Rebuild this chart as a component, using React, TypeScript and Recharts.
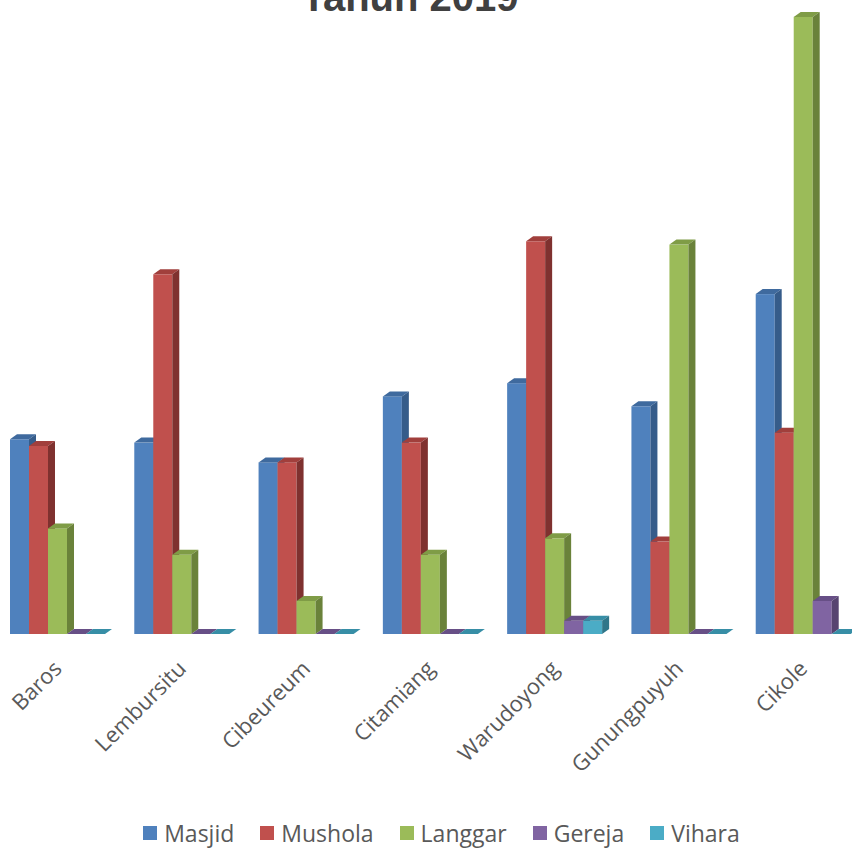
import React from "react";
import { BarChart, Bar, XAxis, YAxis, Legend } from "recharts";

const kecamatan = ["Baros", "Lembursitu", "Cibeureum", "Citamiang", "Warudoyong", "Gunungpuyuh", "Cikole"];
const masjid = [59, 58, 52, 72, 76, 69, 103];
const mushola = [57, 109, 52, 58, 119, 28, 61];
const langgar = [32, 24, 10, 24, 29, 118, 187];
const gereja = [0, 0, 0, 0, 4, 0, 10];
const vihara = [0, 0, 0, 0, 4, 0, 0];

const series = [
  { key: "Masjid", front: "#4F81BD", top: "#3F6A9E", side: "#365C8A" },
  { key: "Mushola", front: "#C0504D", top: "#A13F3C", side: "#7F312F" },
  { key: "Langgar", front: "#9BBB59", top: "#7F9C46", side: "#6A823A" },
  { key: "Gereja", front: "#8064A2", top: "#674F86", side: "#574470" },
  { key: "Vihara", front: "#4BACC6", top: "#378EA6", side: "#2F7689" },
];

const data = kecamatan.map((name, i) => ({
  name,
  Masjid: masjid[i],
  Mushola: mushola[i],
  Langgar: langgar[i],
  Gereja: gereja[i],
  Vihara: vihara[i],
}));

const DX = 7;
const DY = 5;

function bar3d(s: { front: string; top: string; side: string }) {
  return (props: any) => {
    const { x, y, width, height } = props;
    if (x == null || y == null) return <g />;
    const h = Math.max(0, height || 0);
    const w = width;
    return (
      <g>
        <rect x={x} y={y} width={w} height={h} fill={s.front} />
        <polygon
          points={`${x},${y} ${x + DX},${y - DY} ${x + w + DX},${y - DY} ${x + w},${y}`}
          fill={s.top}
        />
        <polygon
          points={`${x + w},${y} ${x + w + DX},${y - DY} ${x + w + DX},${y + h - DY} ${x + w},${y + h}`}
          fill={s.side}
        />
      </g>
    );
  };
}

const Tick = (props: any) => {
  const { x, y, payload } = props;
  const ax = x + 6;
  const ay = y + 28;
  return (
    <text
      x={ax}
      y={ay}
      transform={`rotate(-45, ${ax}, ${ay})`}
      textAnchor="end"
      fill="#595959"
      fontSize={22}
      fontFamily="'Open Sans', sans-serif"
    >
      {payload.value}
    </text>
  );
};

const LegendBox = () => (
  <div
    style={{
      height: 40,
      display: "flex",
      justifyContent: "center",
      alignItems: "center",
      gap: 26,
      paddingTop: 10,
      paddingLeft: 23,
      boxSizing: "border-box",
      fontFamily: "'Open Sans', sans-serif",
      fontSize: 23,
      color: "#595959",
    }}
  >
    {series.map((s) => (
      <div key={s.key} style={{ display: "flex", alignItems: "center", gap: 7 }}>
        <div style={{ width: 14, height: 14, background: s.front }} />
        <span>{s.key}</span>
      </div>
    ))}
  </div>
);

export default function App() {
  return (
    <div
      style={{
        position: "absolute",
        left: 0,
        top: 0,
        width: 852,
        height: 848,
        overflow: "hidden",
        background: "#fff",
      }}
    >
      <div style={{ position: "absolute", left: -5, top: 0 }}>
        <BarChart
          width={870}
          height={848}
          data={data}
          margin={{ top: 7, right: 0, bottom: 0, left: 0 }}
          barGap={0}
          barSize={19}
        >
          <XAxis
            dataKey="name"
            axisLine={false}
            tickLine={false}
            interval={0}
            height={174}
            tick={<Tick />}
          />
          <YAxis hide domain={[0, 190]} allowDataOverflow />
          <Legend verticalAlign="bottom" height={40} content={() => <LegendBox />} />
          {series.map((s) => (
            <Bar key={s.key} dataKey={s.key} isAnimationActive={false} shape={bar3d(s)} />
          ))}
        </BarChart>
      </div>
      <div
        style={{
          position: "absolute",
          left: 0,
          width: 820,
          top: -26,
          textAlign: "center",
          fontFamily: "'Liberation Sans', Arial, sans-serif",
          fontWeight: "bold",
          fontSize: 40,
          lineHeight: "46px",
          color: "#404040",
        }}
      >
        Tahun 2019
      </div>
    </div>
  );
}
